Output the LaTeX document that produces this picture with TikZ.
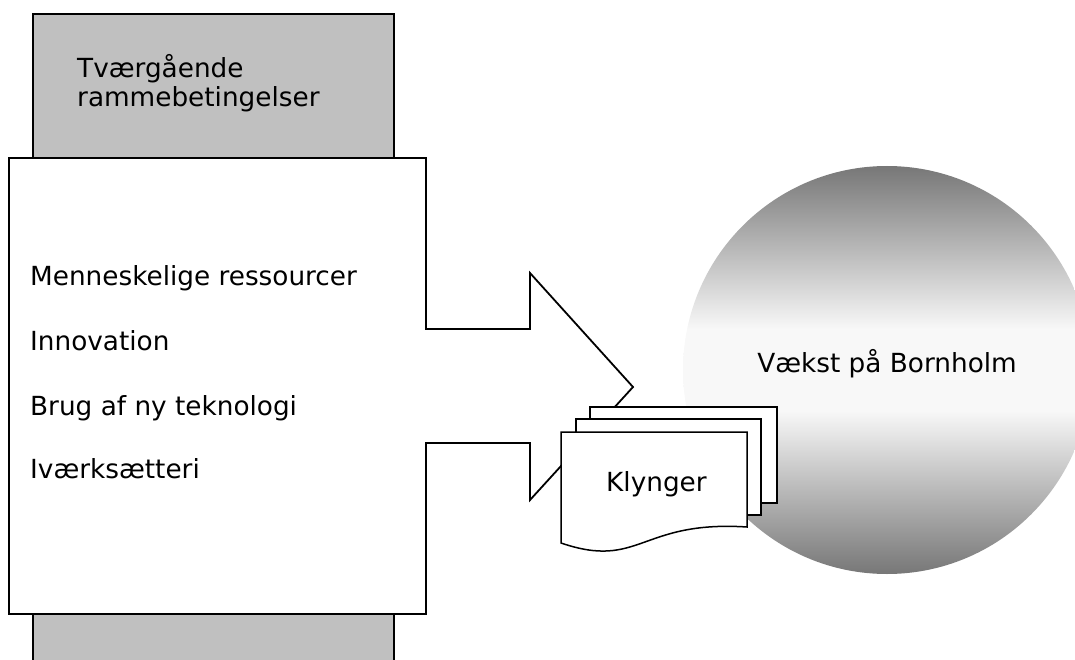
\documentclass[tikz,border=0pt]{standalone}
\usepackage{fontspec}
\setmainfont{DejaVu Sans}
\definecolor{framegray}{HTML}{C0C0C0}
\definecolor{balldark}{HTML}{777777}
\definecolor{ballmid}{HTML}{C4C4C4}
\definecolor{balllight}{HTML}{F8F8F8}
\pgfdeclareverticalshading{ballshade}{100bp}{color(0bp)=(balldark); color(25bp)=(balldark);
  color(37bp)=(ballmid); color(45bp)=(balllight); color(55bp)=(balllight);
  color(63bp)=(ballmid); color(75bp)=(balldark); color(100bp)=(balldark)}
\begin{document}
\begin{tikzpicture}[x=1pt,y=-1pt,
  outline/.style={draw=black,line width=1.8pt,line join=miter},
  docpage/.style={draw=black,line width=1.5pt,fill=white,line join=miter},
  lbl/.style={anchor=base west,inner sep=0pt,font=\fontsize{26.3}{29}\selectfont}]
\useasboundingbox (0,0) rectangle (1075,660);
\clip (0,0) rectangle (1075,660);
% grey background bar
\path[outline,fill=framegray] (33,14) rectangle (394,690);
% big white arrow shape
\path[outline,fill=white] (9,158) -- (426,158) -- (426,329) -- (530,329) -- (530,273)
  -- (633,387) -- (530,500) -- (530,443) -- (426,443) -- (426,614) -- (9,614) -- cycle;
% growth ball
\path[shading=ballshade] (887,370) circle[radius=204];
% stacked documents
\path[docpage] (590,407) rectangle (777,503);
\path[docpage] (576,419) rectangle (761,515);
\path[docpage] (561,432) -- (747,432) -- (747,527)
  .. controls (640,520) and (640,570) .. (561,543) -- cycle;
% texts
\node[lbl] (t1) at (77,78) {Tværgående};
\node[lbl] (t2) at (77,107) {rammebetingelser};
\node[lbl] (m1) at (30,285) {Menneskelige ressourcer};
\node[lbl] (m2) at (30,350) {Innovation};
\node[lbl] (m3) at (30,415) {Brug af ny teknologi};
\node[lbl] (m4) at (30,478) {Iværksætteri};
\node[lbl] (kl) at (606,491) {Klynger};
\node[lbl,anchor=base] (vb) at (887,372) {Vækst på Bornholm};
\end{tikzpicture}
\end{document}
